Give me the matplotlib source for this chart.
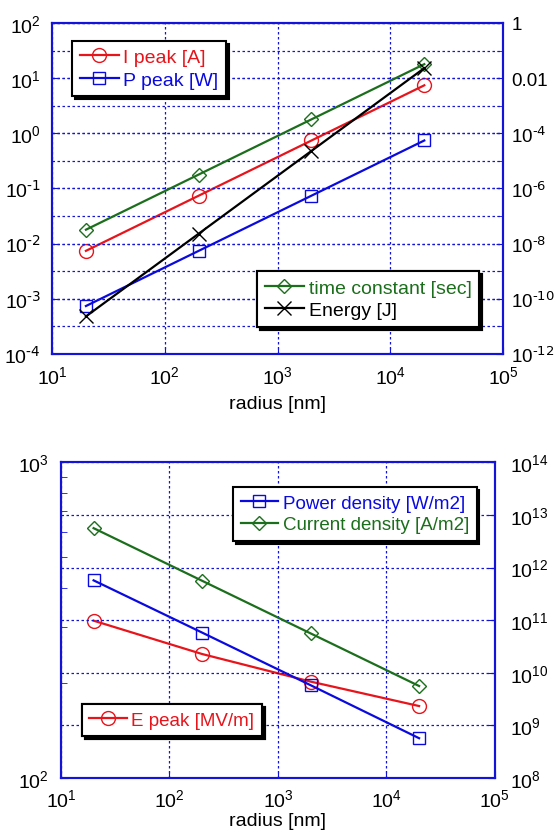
import matplotlib
matplotlib.use("Agg")
import matplotlib.pyplot as plt
from matplotlib.ticker import FixedLocator, FixedFormatter, NullFormatter, NullLocator

plt.rcParams['font.family'] = ['Liberation Sans', 'DejaVu Sans']
plt.rcParams['mathtext.default'] = 'regular'

# data
radius = [20, 200, 2000, 20000]

i_peak = [7.4e-3, 7.4e-2, 0.74, 7.4]
p_peak = [7.4e-4, 7.4e-3, 7.4e-2, 0.74]
time_const = [3.2e-8, 3.2e-6, 3.2e-4, 3.2e-2]
energy = [2.3e-11, 2.3e-8, 2.3e-5, 2.3e-2]

e_peak = [315, 247, 202, 169]
power_density = [5.7e11, 5.8e10, 5.8e9, 5.7e8]
current_density = [5.6e12, 5.6e11, 5.6e10, 5.6e9]

x_ticks = [1e1, 1e2, 1e3, 1e4, 1e5]
x_labels = ['$10^{1}$', '$10^{2}$', '$10^{3}$', '$10^{4}$', '$10^{5}$']
top_left_ticks = [1e-4, 1e-3, 1e-2, 1e-1, 1e0, 1e1, 1e2]
top_left_labels = [r'$10^{\text{-4}}$', r'$10^{\text{-3}}$', r'$10^{\text{-2}}$', r'$10^{\text{-1}}$',
	'$10^{0}$', '$10^{1}$', '$10^{2}$']
top_right_ticks = [1e-12, 1e-10, 1e-8, 1e-6, 1e-4, 1e-2, 1e0]
top_right_labels = [r'$10^{\text{-12}}$', r'$10^{\text{-10}}$', r'$10^{\text{-8}}$', r'$10^{\text{-6}}$',
	r'$10^{\text{-4}}$', '0.01', '1']
top_right_grid = [1e-11, 1e-9, 1e-7, 1e-5, 1e-3, 1e-1]
bot_left_ticks = [1e2, 1e3]
bot_left_labels = ['$10^{2}$', '$10^{3}$']
bot_left_minor = [200, 300, 400, 500, 600, 700, 800, 900]
bot_right_ticks = [1e8, 1e9, 1e10, 1e11, 1e12, 1e13, 1e14]
bot_right_labels = ['$10^{8}$', '$10^{9}$', '$10^{10}$', '$10^{11}$', '$10^{12}$', '$10^{13}$', '$10^{14}$']

RED = '#e8141b'
BLUE = '#0a0ae0'
GREEN = '#1b6e1b'
SPINE = '#1414d8'
FS = 14

def style_axes(ax):
	for s in ax.spines.values():
		s.set_color(SPINE)
		s.set_linewidth(1.5)
	ax.tick_params(which='both', direction='in', colors=SPINE, labelcolor='black', labelsize=FS)
	ax.tick_params(which='major', length=5)
	ax.tick_params(which='minor', length=4)

def grid(ax, axis, which='both'):
	ax.grid(True, axis=axis, which=which, color=SPINE, linestyle=(0, (2, 2)), linewidth=0.9)

def legend(ax, handles, loc, anchor, fs=FS):
	leg = ax.legend(handles=handles, loc=loc, bbox_to_anchor=anchor, fontsize=fs, frameon=True,
		fancybox=False, framealpha=1, edgecolor='black', shadow={'color': 'black', 'alpha': 1},
		labelcolor='linecolor', handlelength=2.0, borderpad=0.4, labelspacing=0.25,
		handletextpad=0.25, borderaxespad=0)
	leg.get_frame().set_linewidth(1.5)
	leg.set_zorder(10)
	ax.add_artist(leg)
	return leg

fig = plt.figure(figsize=(5.59, 8.37), dpi=100)

# ---------- top panel ----------
ax1 = fig.add_axes([0.093, 0.5759, 0.807, 0.3955])
ax1r = ax1.twinx()
for a in (ax1, ax1r):
	a.set_xscale('log')
	a.set_yscale('log')
	a.set_xlim(1e1, 1e5)
ax1.set_ylim(1e-4, 1e2)
ax1r.set_ylim(1e-12, 1e0)

h_i, = ax1.plot(radius, i_peak, color=RED, lw=1.6, marker='o', ms=10, mfc='none', mew=1, label='I peak [A]')
h_p, = ax1.plot(radius, p_peak, color=BLUE, lw=1.6, marker='s', ms=9, mfc='none', mew=1, label='P peak [W]')
h_t, = ax1r.plot(radius, time_const, color=GREEN, lw=1.6, marker='D', ms=7, mfc='none', mew=1, label='time constant [sec]')
h_e, = ax1r.plot(radius, energy, color='black', lw=1.6, marker='x', ms=10, mew=1, label='Energy [J]')

ax1.xaxis.set_major_locator(FixedLocator(x_ticks))
ax1.xaxis.set_major_formatter(FixedFormatter(x_labels))
ax1.xaxis.set_minor_locator(NullLocator())
ax1.yaxis.set_major_locator(FixedLocator(top_left_ticks))
ax1.yaxis.set_major_formatter(FixedFormatter(top_left_labels))
ax1.yaxis.set_minor_locator(NullLocator())
ax1r.yaxis.set_major_locator(FixedLocator(top_right_ticks))
ax1r.yaxis.set_major_formatter(FixedFormatter(top_right_labels))
ax1r.yaxis.set_minor_locator(FixedLocator(top_right_grid))
ax1r.yaxis.set_minor_formatter(NullFormatter())
style_axes(ax1)
style_axes(ax1r)
ax1.tick_params(axis='x', pad=8)
ax1.tick_params(axis='y', pad=8)
ax1r.tick_params(axis='y', pad=6, labelsize=13.5)
grid(ax1, 'both')
grid(ax1r, 'y')
ax1.set_xlabel('radius [nm]', fontsize=FS, labelpad=6)

legend(ax1r, [h_i, h_p], 'upper left', (0.044, 0.946))
legend(ax1r, [h_t, h_e], 'lower right', (0.947, 0.082))

# ---------- bottom panel ----------
ax2 = fig.add_axes([0.109, 0.0693, 0.7764, 0.3772])
ax2r = ax2.twinx()
for a in (ax2, ax2r):
	a.set_xscale('log')
	a.set_yscale('log')
	a.set_xlim(1e1, 1e5)
ax2.set_ylim(1e2, 1e3)
ax2r.set_ylim(1e8, 1e14)

h_ep, = ax2.plot(radius, e_peak, color=RED, lw=1.6, marker='o', ms=10, mfc='none', mew=1, label='E peak [MV/m]')
h_pd, = ax2r.plot(radius, power_density, color=BLUE, lw=1.6, marker='s', ms=9, mfc='none', mew=1, label='Power density [W/m2]')
h_cd, = ax2r.plot(radius, current_density, color=GREEN, lw=1.6, marker='D', ms=7, mfc='none', mew=1, label='Current density [A/m2]')

ax2.xaxis.set_major_locator(FixedLocator(x_ticks))
ax2.xaxis.set_major_formatter(FixedFormatter(x_labels))
ax2.xaxis.set_minor_locator(NullLocator())
ax2.yaxis.set_major_locator(FixedLocator(bot_left_ticks))
ax2.yaxis.set_major_formatter(FixedFormatter(bot_left_labels))
ax2.yaxis.set_minor_locator(FixedLocator(bot_left_minor))
ax2.yaxis.set_minor_formatter(NullFormatter())
ax2r.yaxis.set_major_locator(FixedLocator(bot_right_ticks))
ax2r.yaxis.set_major_formatter(FixedFormatter(bot_right_labels))
ax2r.yaxis.set_minor_locator(NullLocator())
style_axes(ax2)
style_axes(ax2r)
ax2.tick_params(axis='x', pad=7)
ax2.tick_params(axis='y', pad=9)
ax2r.tick_params(axis='y', pad=11)
grid(ax2, 'x')
grid(ax2r, 'y', 'major')
ax2.set_xlabel('radius [nm]', fontsize=FS, labelpad=2)

legend(ax2r, [h_pd, h_cd], 'upper right', (0.958, 0.922), fs=13.5)
legend(ax2r, [h_ep], 'lower left', (0.048, 0.133), fs=13.5)

fig.savefig('out.png', dpi=100)
